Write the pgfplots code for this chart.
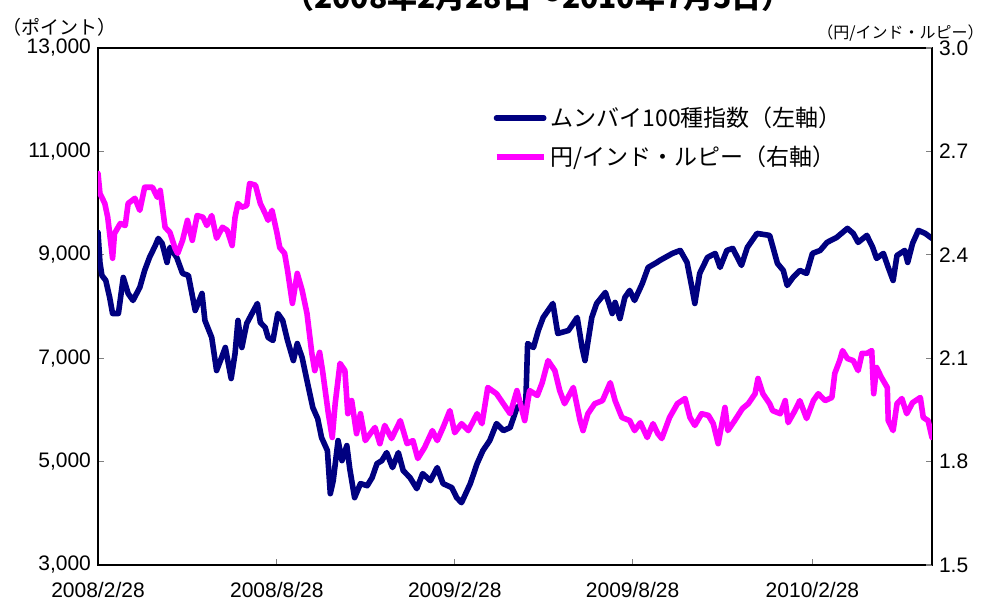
\documentclass[border=0pt]{standalone}
\usepackage{fontspec}
\setmainfont{Liberation Sans}
\newfontfamily\jp{Noto Sans CJK JP}
\usepackage{pgfplots}
\pgfplotsset{compat=1.18}
\definecolor{navyline}{RGB}{0,0,128}
\definecolor{magline}{RGB}{255,0,255}
\begin{document}
\begin{tikzpicture}
\path[use as bounding box] (-49pt,-18.5pt) rectangle (444pt,282.5pt);
\begin{axis}[
  at={(0,0)}, anchor=south west,
  width=417pt, height=258.5pt, scale only axis,
  xmin=0, xmax=858, ymin=3000, ymax=13000,
  xtick={0,184,367,550,735},
  xticklabels={2008/2/28,2008/8/28,2009/2/28,2009/8/28,2010/2/28},
  ytick={3000,5000,7000,9000,11000,13000},
  scaled y ticks=false,
  ytick pos=left, xtick pos=bottom,
  tick align=inside, major tick length=3pt,
  tick style={gray, line width=0.6pt},
  axis line style={black, line width=0.8pt},
  /pgf/number format/1000 sep={,},
  /pgf/number format/assume math mode=true,
  ticklabel style={font=\fontsize{10.5}{12}\selectfont},
  xticklabel style={yshift=-5pt},
  legend style={at={(0.474,0.895)}, anchor=north west, draw=none, fill=none,
    font=\jp\fontsize{11.5}{13}\selectfont, row sep=4pt, inner sep=0pt},
  legend cell align=left,
  legend image code/.code={\draw[#1] (0cm,0cm) -- (0.83cm,0cm);},
]
\addplot[navyline, line width=2.8pt, line join=round, line cap=round] coordinates {
(0,9433)(2,8853)(4,8601)(8,8504)(12,8175)(15,7865)(21,7865)(26,8562)(31,8252)(36,8117)
(43,8369)(48,8698)(53,8949)(59,9182)(62,9317)(66,9220)(71,8853)(74,9143)(81,8949)(87,8640)
(93,8601)(100,7923)(107,8252)(110,7730)(117,7401)(122,6762)(126,6955)(131,7207)(137,6607)(141,7091)
(144,7730)(148,7207)(153,7672)(159,7885)(164,8059)(167,7691)(172,7594)(175,7401)(180,7343)(185,7865)
(190,7730)(195,7343)(201,6955)(205,7284)(210,7013)(215,6568)(221,6045)(226,5832)(230,5465)(236,5213)
(239,4380)(242,4632)(247,5407)(251,5019)(256,5310)(259,4864)(264,4303)(270,4574)(277,4535)(282,4690)
(287,4961)(292,5019)(297,5174)(303,4884)(309,5174)(314,4826)(321,4690)(328,4477)(334,4768)(342,4632)
(349,4884)(355,4574)(364,4497)(369,4303)(374,4206)(383,4574)(390,4961)(396,5213)(403,5407)(410,5736)
(417,5600)(424,5658)(431,6045)(437,6123)(440,6084)(442,7284)(448,7207)(453,7536)(458,7788)(463,7923)
(468,8059)(473,7478)(484,7536)(493,7788)(498,7207)(501,6955)(508,7788)(513,8059)(522,8272)(529,7865)
(532,8078)(537,7768)(542,8175)(547,8311)(552,8117)(560,8446)(566,8756)(575,8853)(578,8891)(591,9027)
(599,9085)(606,8853)(611,8369)(614,8059)(619,8640)(627,8949)(635,9027)(640,8756)(647,9085)(653,9124)
(662,8795)(668,9143)(678,9414)(691,9375)(699,8833)(705,8698)(709,8407)(715,8562)(722,8698)(729,8640)
(735,9027)(743,9085)(750,9240)(760,9337)(771,9511)(777,9414)(782,9240)(791,9375)(797,9143)(801,8930)
(808,9027)(813,8756)(818,8504)(822,8988)(830,9085)(833,8853)(838,9220)(844,9472)(851,9414)(858,9317)
};
\addlegendentry{ムンバイ100種指数（左軸）}
\addlegendimage{magline, line width=2.8pt}
\addlegendentry{円/インド・ルピー（右軸）}
\end{axis}
\begin{axis}[
  at={(0,0)}, anchor=south west,
  width=417pt, height=258.5pt, scale only axis,
  xmin=0, xmax=858, ymin=1.5, ymax=3.0,
  axis x line=none, axis y line*=right,
  ytick={1.5,1.8,2.1,2.4,2.7,3.0},
  tick align=inside, major tick length=3pt,
  tick style={gray, line width=0.6pt},
  axis line style={black, line width=0.8pt},
  /pgf/number format/fixed, /pgf/number format/fixed zerofill,
  /pgf/number format/precision=1,
  /pgf/number format/assume math mode=true,
  ticklabel style={font=\fontsize{10.5}{12}\selectfont},
]
\addplot[magline, line width=2.8pt, line join=round, line cap=round] coordinates {
(0,2.636)(2,2.578)(7,2.549)(10,2.509)(15,2.390)(17,2.462)(23,2.491)(28,2.485)(31,2.549)(38,2.564)
(43,2.529)(48,2.596)(56,2.596)(61,2.567)(64,2.587)(69,2.480)(74,2.465)(79,2.421)(82,2.404)(87,2.442)
(92,2.500)(97,2.442)(102,2.514)(108,2.509)(112,2.485)(117,2.514)(122,2.448)(128,2.480)(133,2.471)(138,2.427)
(141,2.509)(144,2.549)(148,2.538)(153,2.543)(156,2.607)(162,2.602)(167,2.549)(172,2.520)(175,2.500)(179,2.529)
(184,2.465)(187,2.421)(192,2.404)(195,2.355)(200,2.259)(205,2.346)(210,2.297)(215,2.230)(220,2.114)(223,2.064)
(228,2.117)(231,2.064)(237,1.939)(241,1.870)(244,1.968)(249,2.085)(254,2.064)(257,1.939)(261,1.977)(266,1.881)
(270,1.939)(275,1.861)(280,1.881)(285,1.899)(290,1.852)(295,1.905)(302,1.867)(311,1.919)(318,1.852)(324,1.861)
(329,1.809)(336,1.841)(344,1.890)(349,1.861)(355,1.899)(362,1.948)(367,1.884)(374,1.910)(381,1.890)(390,1.939)
(395,1.910)(401,2.015)(410,1.997)(417,1.968)(424,1.939)(431,2.006)(439,1.919)(444,2.006)(452,1.992)(457,2.029)
(463,2.093)(470,2.064)(475,2.006)(480,1.968)(489,2.015)(496,1.919)(499,1.890)(504,1.939)(511,1.968)(519,1.977)
(527,2.029)(532,1.977)(539,1.928)(547,1.919)(552,1.890)(558,1.913)(565,1.870)(571,1.910)(576,1.881)(580,1.867)
(588,1.928)(596,1.968)(604,1.983)(609,1.928)(614,1.905)(621,1.939)(628,1.934)(633,1.910)(638,1.852)(645,1.957)
(648,1.890)(655,1.919)(663,1.954)(669,1.968)(676,1.997)(679,2.041)(684,1.997)(691,1.968)(694,1.948)(702,1.939)
(707,1.977)(710,1.913)(717,1.948)(722,1.977)(729,1.925)(736,1.977)(741,1.997)(748,1.977)(755,1.986)(758,2.056)
(763,2.093)(766,2.122)(771,2.099)(777,2.093)(782,2.064)(786,2.114)(791,2.114)(796,2.122)(798,1.997)(801,2.073)
(806,2.044)(812,2.015)(813,1.919)(818,1.890)(822,1.968)(827,1.983)(832,1.939)(838,1.971)(846,1.986)(849,1.928)
(854,1.919)(858,1.870)
};
\end{axis}
\node[anchor=base, font=\jp\bfseries\fontsize{15}{18}\selectfont] at (220pt,278.5pt) {（2008年2月28日～2010年7月5日）};
\node[anchor=west, inner sep=0pt, font=\jp\fontsize{9.5}{11}\selectfont] at (-48pt,269pt) {（ポイント）};
\node[anchor=east, inner sep=0pt, font=\jp\fontsize{8}{9.5}\selectfont] at (443pt,266pt) {（円/インド・ルピー）};
\end{tikzpicture}
\end{document}
